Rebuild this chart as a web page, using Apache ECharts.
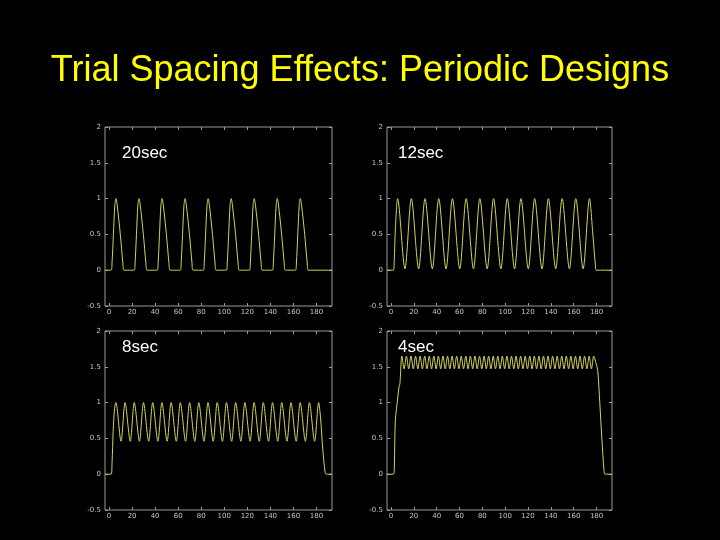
<!DOCTYPE html>
<html>
<head>
<meta charset="utf-8">
<title>Trial Spacing Effects: Periodic Designs</title>
<script src="https://cdn.jsdelivr.net/npm/echarts@6/dist/echarts.min.js"></script>
<style>
  html, body { margin: 0; padding: 0; background: #000; }
  #chart { width: 720px; height: 540px; }
</style>
</head>
<body>
<div id="chart"></div>
<script>
// shared axis ticks
const xTicks = [0, 20, 40, 60, 80, 100, 120, 140, 160, 180];

// response traces, [time, signal]
const sec20 = [
  [-3.5, 0],
  [1.8, 0], [2.6, 0.1], [3.8, 0.5], [5, 0.9], [6, 1], [7, 0.92], [9.8, 0.5], [12, 0.1], [13, 0],
  [21.8, 0], [22.6, 0.1], [23.8, 0.5], [25, 0.9], [26, 1], [27, 0.92], [29.8, 0.5], [32, 0.1], [33, 0],
  [41.8, 0], [42.6, 0.1], [43.8, 0.5], [45, 0.9], [46, 1], [47, 0.92], [49.8, 0.5], [52, 0.1], [53, 0],
  [61.8, 0], [62.6, 0.1], [63.8, 0.5], [65, 0.9], [66, 1], [67, 0.92], [69.8, 0.5], [72, 0.1], [73, 0],
  [81.8, 0], [82.6, 0.1], [83.8, 0.5], [85, 0.9], [86, 1], [87, 0.92], [89.8, 0.5], [92, 0.1], [93, 0],
  [101.8, 0], [102.6, 0.1], [103.8, 0.5], [105, 0.9], [106, 1], [107, 0.92], [109.8, 0.5], [112, 0.1], [113, 0],
  [121.8, 0], [122.6, 0.1], [123.8, 0.5], [125, 0.9], [126, 1], [127, 0.92], [129.8, 0.5], [132, 0.1], [133, 0],
  [141.8, 0], [142.6, 0.1], [143.8, 0.5], [145, 0.9], [146, 1], [147, 0.92], [149.8, 0.5], [152, 0.1], [153, 0],
  [161.8, 0], [162.6, 0.1], [163.8, 0.5], [165, 0.9], [166, 1], [167, 0.92], [169.8, 0.5], [172, 0.1], [173, 0],
  [193.5, 0],
];

const sec12 = [
  [-3.5, 0], [2, 0], [2.8, 0.12], [3.9, 0.6],
  [5.8, 1], [12.2, 0.02], [17.8, 1], [24.2, 0.02], [29.8, 1], [36.2, 0.02], [41.8, 1], [48.2, 0.02],
  [53.8, 1], [60.2, 0.02], [65.8, 1], [72.2, 0.02], [77.8, 1], [84.2, 0.02], [89.8, 1], [96.2, 0.02],
  [101.8, 1], [108.2, 0.02], [113.8, 1], [120.2, 0.02], [125.8, 1], [132.2, 0.02], [137.8, 1], [144.2, 0.02],
  [149.8, 1], [156.2, 0.02], [161.8, 1], [168.2, 0.02], [173.8, 1],
  [176.5, 0.55], [179, 0.06], [180, 0], [193.5, 0],
];

const sec8 = [
  [-3.5, 0], [1.8, 0], [2.6, 0.15], [3.6, 0.6], [4.8, 0.92],
  [5.9, 1], [10.4, 0.46], [13.9, 1], [18.4, 0.46], [21.9, 1], [26.4, 0.46], [29.9, 1], [34.4, 0.46],
  [37.9, 1], [42.4, 0.46], [45.9, 1], [50.4, 0.46], [53.9, 1], [58.4, 0.46], [61.9, 1], [66.4, 0.46],
  [69.9, 1], [74.4, 0.46], [77.9, 1], [82.4, 0.46], [85.9, 1], [90.4, 0.46], [93.9, 1], [98.4, 0.46],
  [101.9, 1], [106.4, 0.46], [109.9, 1], [114.4, 0.46], [117.9, 1], [122.4, 0.46], [125.9, 1], [130.4, 0.46],
  [133.9, 1], [138.4, 0.46], [141.9, 1], [146.4, 0.46], [149.9, 1], [154.4, 0.46], [157.9, 1], [162.4, 0.46],
  [165.9, 1], [170.4, 0.46], [173.9, 1], [178.4, 0.46], [181.9, 1],
  [183.5, 0.8], [185.5, 0.35], [187.5, 0.03], [188.5, 0], [193.5, 0],
];

const sec4 = [
  [-3.5, 0], [2.2, 0], [2.9, 0.1], [3.8, 0.75], [5.8, 1.05], [7, 1.22], [7.8, 1.26],
  [9.5, 1.65], [11.5, 1.47], [13.5, 1.65], [15.5, 1.47], [17.5, 1.65], [19.5, 1.47], [21.5, 1.65], [23.5, 1.47],
  [25.5, 1.65], [27.5, 1.47], [29.5, 1.65], [31.5, 1.47], [33.5, 1.65], [35.5, 1.47], [37.5, 1.65], [39.5, 1.47],
  [41.5, 1.65], [43.5, 1.47], [45.5, 1.65], [47.5, 1.47], [49.5, 1.65], [51.5, 1.47], [53.5, 1.65], [55.5, 1.47],
  [57.5, 1.65], [59.5, 1.47], [61.5, 1.65], [63.5, 1.47], [65.5, 1.65], [67.5, 1.47], [69.5, 1.65], [71.5, 1.47],
  [73.5, 1.65], [75.5, 1.47], [77.5, 1.65], [79.5, 1.47], [81.5, 1.65], [83.5, 1.47], [85.5, 1.65], [87.5, 1.47],
  [89.5, 1.65], [91.5, 1.47], [93.5, 1.65], [95.5, 1.47], [97.5, 1.65], [99.5, 1.47], [101.5, 1.65], [103.5, 1.47],
  [105.5, 1.65], [107.5, 1.47], [109.5, 1.65], [111.5, 1.47], [113.5, 1.65], [115.5, 1.47], [117.5, 1.65], [119.5, 1.47],
  [121.5, 1.65], [123.5, 1.47], [125.5, 1.65], [127.5, 1.47], [129.5, 1.65], [131.5, 1.47], [133.5, 1.65], [135.5, 1.47],
  [137.5, 1.65], [139.5, 1.47], [141.5, 1.65], [143.5, 1.47], [145.5, 1.65], [147.5, 1.47], [149.5, 1.65], [151.5, 1.47],
  [153.5, 1.65], [155.5, 1.47], [157.5, 1.65], [159.5, 1.47], [161.5, 1.65], [163.5, 1.47], [165.5, 1.65], [167.5, 1.47],
  [169.5, 1.65], [171.5, 1.47], [173.5, 1.65], [175.5, 1.47], [177.5, 1.65],
  [179.5, 1.55], [181, 1.45], [182.8, 1.0], [184.6, 0.5], [186.5, 0.05], [187.3, 0], [193.5, 0],
];

const panelNames = ["20sec", "12sec", "8sec", "4sec"];
const panelData = [sec20, sec12, sec8, sec4];

const titleColor = "#ffff00";
const lineColor = "#d4d45a";
const frameColor = "#9a9a9a";
const labelColor = "#c4c4c4";

// plot boxes in pixels, plus where each panel's name sits
const boxes = [
  { left: 105, top: 127, width: 227, height: 179, nameX: 117, nameY: 140 },
  { left: 387, top: 127, width: 225, height: 179, nameX: 393, nameY: 140 },
  { left: 105, top: 331, width: 227, height: 179, nameX: 117, nameY: 334 },
  { left: 387, top: 331, width: 225, height: 179, nameX: 393, nameY: 334 },
];

const chart = echarts.init(document.getElementById("chart"), null, { renderer: "canvas" });

const grids = [];
const xAxes = [];
const yAxes = [];
const series = [];
const titles = [
  {
    text: "Trial Spacing Effects: Periodic Designs",
    left: "center",
    top: 48,
    textStyle: { color: titleColor, fontSize: 36, fontWeight: "normal", fontFamily: "Liberation Sans, Arial, sans-serif" },
  },
];

boxes.forEach((box, i) => {
  grids.push({
    left: box.left,
    top: box.top,
    width: box.width,
    height: box.height,
    show: true,
    borderColor: frameColor,
    borderWidth: 1,
    backgroundColor: "transparent",
  });

  const tick = { inside: true, length: 3, lineStyle: { color: frameColor } };
  xAxes.push({
    gridIndex: i,
    type: "value",
    min: -3.5,
    max: 193.5,
    axisLine: { show: false, onZero: false },
    axisTick: { ...tick, customValues: xTicks },
    axisLabel: { customValues: xTicks, color: labelColor, fontSize: 7, margin: 3, fontFamily: "DejaVu Sans" },
    splitLine: { show: false },
  });
  xAxes.push({
    gridIndex: i,
    type: "value",
    position: "top",
    min: -3.5,
    max: 193.5,
    axisLine: { show: false, onZero: false },
    axisTick: { ...tick, customValues: xTicks },
    axisLabel: { show: false },
    splitLine: { show: false },
  });
  yAxes.push({
    gridIndex: i,
    type: "value",
    min: -0.5,
    max: 2,
    interval: 0.5,
    axisLine: { show: false, onZero: false },
    axisTick: tick,
    axisLabel: { color: labelColor, fontSize: 7, margin: 4, fontFamily: "DejaVu Sans" },
    splitLine: { show: false },
  });
  yAxes.push({
    gridIndex: i,
    type: "value",
    position: "right",
    min: -0.5,
    max: 2,
    interval: 0.5,
    axisLine: { show: false, onZero: false },
    axisTick: tick,
    axisLabel: { show: false },
    splitLine: { show: false },
  });

  series.push({
    name: panelNames[i],
    type: "line",
    xAxisIndex: i * 2,
    yAxisIndex: i * 2,
    data: panelData[i],
    showSymbol: false,
    smooth: 0.3,
    lineStyle: { color: lineColor, width: 1 },
  });

  titles.push({
    text: panelNames[i],
    left: box.nameX,
    top: box.nameY,
    textStyle: { color: "#ffffff", fontSize: 17, fontWeight: "normal", fontFamily: "Liberation Sans, Arial, sans-serif" },
  });
});

chart.setOption({
  backgroundColor: "#000000",
  animation: false,
  title: titles,
  grid: grids,
  xAxis: xAxes,
  yAxis: yAxes,
  series: series,
});
</script>
</body>
</html>
